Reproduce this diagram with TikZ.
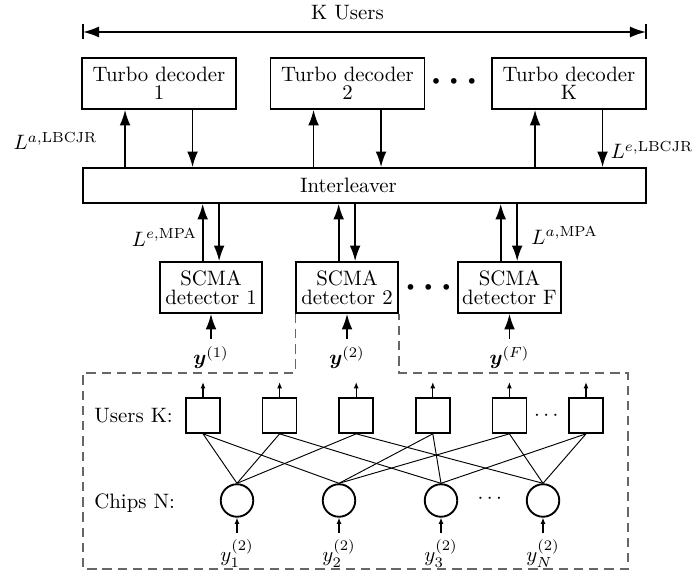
\documentclass[tikz,border=0pt]{standalone}
\usepackage{amsmath}
\usepackage{amssymb}
\usepackage{tikz}
\usetikzlibrary{positioning}
\usetikzlibrary{calc}
\usetikzlibrary{arrows.meta}
\newcommand{\yvec}{\boldsymbol{y}}
\newcommand{\llr}[2]{L^{#1,\mathrm{#2}}}
\newcommand{\bigdots}{{\fontsize{6}{7}\selectfont$\bullet\kern3pt\bullet\kern3pt\bullet$}}

\tikzset{
  block/.style={rectangle, draw=black, line width=0.8pt, align=center, inner sep=2pt},
  decoder/.style={block, minimum width=74pt, minimum height=24.5pt},
  detector/.style={block, minimum width=49pt, minimum height=24.5pt},
  user/.style={rectangle, draw=black, line width=0.8pt, minimum width=16.3pt, minimum height=16.8pt},
  chip/.style={circle, draw=black, line width=0.9pt, minimum size=15.6pt, inner sep=0pt},
  flow/.style={line width=0.8pt, -{Latex[length=7.5pt,width=5.2pt]}},
  smallarrow/.style={line width=0.5pt, -{Latex[length=3pt,width=2.4pt]}},
  link/.style={line width=0.45pt},
  zoombox/.style={draw=black!60, line width=0.6pt, dash pattern=on 4.5pt off 2.8pt},
}

\begin{document}
\begin{tikzpicture}[x=0.48pt, y=-0.48pt]
    \useasboundingbox (0,0) rectangle (694,571);

    % Turbo decoders
    \node[decoder] (td1) at (159,83.5) {Turbo decoder\\[-3.4pt]1};
    \node[decoder] (td2) at (347.5,83.5) {Turbo decoder\\[-3.4pt]2};
    \node[decoder] (tdk) at (569,83.5) {Turbo decoder\\[-3.4pt]K};
    \node (tddots) at (454,82) {\bigdots};

    % K users span
    \coordinate (kl) at (83,32);
    \coordinate (kr) at (646,32);
    \draw[line width=0.8pt, {Latex[length=7.7pt,width=5.3pt]}-{Latex[length=7.7pt,width=5.3pt]}] (kl) -- (kr);
    \draw[line width=0.8pt] ([yshift=3.6pt]kl) -- ([yshift=-3.6pt]kl);
    \draw[line width=0.8pt] ([yshift=3.6pt]kr) -- ([yshift=-3.6pt]kr);
    \node (kusers) at (347.5,13) {K Users};

    % Interleaver
    \node[block, minimum width=270.2pt, minimum height=16.8pt,
          label={[xshift=-7.7pt]center:Interleaver}] (il) at (364.5,185.5) {};

    \foreach \d in {td1,td2,tdk} {
      \draw[flow] ([xshift=21.1pt]\d.south west |- il.north) -- ([xshift=21.1pt]\d.south west);
      \draw[flow] ([xshift=53.5pt]\d.south west) -- ([xshift=53.5pt]\d.south west |- il.north);
    }
    \node (lad) at (55.5,141) {$\llr{a}{LBCJR}$};
    \node (led) at (652,150) {$\llr{e}{LBCJR}$};

    % SCMA detectors
    \node[detector] (sd1) at (211,287.5) {SCMA\\[-2.9pt]detector 1};
    \node[detector] (sd2) at (347,287.5) {SCMA\\[-2.9pt]detector 2};
    \node[detector] (sdf) at (509.5,287.5) {SCMA\\[-2.9pt]detector F};
    \node (sddots) at (428.5,288) {\bigdots};

    \foreach \d in {sd1,sd2,sdf} {
      \draw[flow] ([xshift=20.9pt]\d.north west) -- ([xshift=20.9pt]\d.north west |- il.south);
      \draw[flow] ([xshift=28.8pt]\d.north west |- il.south) -- ([xshift=28.8pt]\d.north west);
    }
    \node (lem) at (164.5,237.5) {$\llr{e}{MPA}$};
    \node (lam) at (564.5,235.5) {$\llr{a}{MPA}$};

    % Received signals
    \node[below=12pt of sd1] (y1) {$\yvec^{(1)}$};
    \draw[flow] (y1) -- (sd1);
    \node[below=12pt of sd2] (y2) {$\yvec^{(2)}$};
    \draw[flow] (y2) -- (sd2);
    \node[below=12pt of sdf] (yf) {$\yvec^{(F)}$};
    \draw[flow] (yf) -- (sdf);

    % Zoom on detector 2
    \coordinate (dtl) at (83,373);
    \coordinate (dbr) at (628,569);
    \draw[zoombox] (sd2.south west) -- (sd2.south west |- dtl) -- (dtl) -- (dtl |- dbr)
      -- (dbr) -- (dbr |- dtl) -- (sd2.south east |- dtl) -- (sd2.south east);

    % Users
    \foreach \i in {1,...,6} {
      \node[user] (u\i) at ({203+76.6*(\i-1)},415.5) {};
      \draw[smallarrow] (u\i.north) -- ++(0,7.2pt);
    }
    \node[anchor=west] (ulabel) at (87,416) {Users K:};
    \node (udots) at (548,416) {$\cdots$};

    % Chips
    \foreach \j/\n [count=\k] in {1/1,2/2,3/3,n/N} {
      \node[chip] (c\j) at ({237+102*(\k-1)},500.5) {};
      \node[below=7.2pt of c\j] (yc\j) {$y_{\n}^{(2)}$};
      \draw[smallarrow] (yc\j) -- (c\j);
    }
    \node[anchor=west] (clabel) at (87,503) {Chips N:};
    \node (cdots) at (491.5,499) {$\cdots$};

    % Factor graph edges
    \foreach \i/\j in {1/1,1/2,2/1,2/3,3/1,3/n,4/2,4/3,5/2,5/n,6/3,6/n}
      \draw[link] (u\i.south) -- (c\j.north);

\end{tikzpicture}
\end{document}
